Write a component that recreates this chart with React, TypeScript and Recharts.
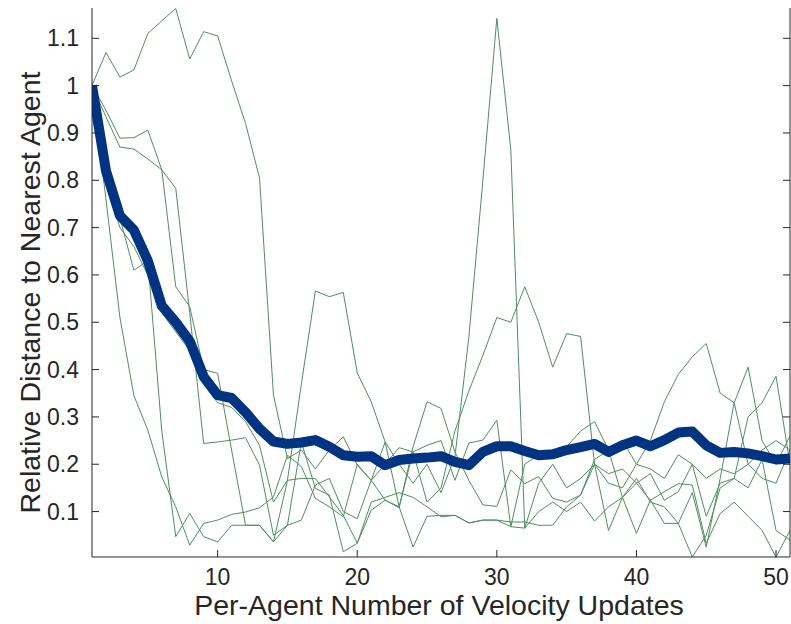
import React from 'react';
import { LineChart, Line, XAxis, YAxis } from 'recharts';

// Per-agent velocity update index
const steps = Array.from({ length: 51 }, (_, i) => i + 1);

// Mean relative distance to nearest agent (thick line)
const meanDistance = [
  1.0, 0.82, 0.725, 0.695, 0.63, 0.535, 0.5, 0.46, 0.385, 0.346,
  0.34, 0.31, 0.275, 0.248, 0.243, 0.246, 0.251, 0.237, 0.219, 0.216,
  0.217, 0.198, 0.209, 0.212, 0.214, 0.217, 0.205, 0.198, 0.226, 0.238,
  0.238, 0.228, 0.219, 0.221, 0.23, 0.236, 0.243, 0.226, 0.24, 0.25,
  0.238, 0.251, 0.267, 0.269, 0.24, 0.224, 0.226, 0.223, 0.217, 0.21, 0.212,
];

// Individual runs (thin lines)
const runA = [
  1.0, 1.07, 1.018, 1.033, 1.11, 1.137, 1.163, 1.056, 1.114, 1.105,
  1.01, 0.92, 0.805, 0.346, 0.212, 0.23, 0.19, 0.23, 0.258, 0.198,
  0.166, 0.124, 0.108, 0.237, 0.332, 0.318, 0.226, 0.166, 0.114, 0.111,
  0.188, 0.159, 0.174, 0.128, 0.12, 0.135, 0.21, 0.23, 0.13, 0.16,
  0.124, 0.142, 0.159, 0.156, 0.033, 0.096, 0.12, 0.09, 0.06, 0.004, 0.06,
];
const runB = [
  1.0, 0.948, 0.889, 0.89, 0.906, 0.822, 0.575, 0.533, 0.4, 0.392,
  0.23, 0.071, 0.071, 0.036, 0.166, 0.17, 0.17, 0.131, 0.092, 0.033,
  0.103, 0.124, 0.11, 0.025, 0.09, 0.092, 0.092, 0.076, 0.082, 0.082,
  0.078, 0.078, 0.071, 0.071, 0.11, 0.135, 0.2, 0.06, 0.13, 0.054,
  0.124, 0.075, 0.075, 0.004, 0.05, 0.15, 0.17, 0.3, 0.33, 0.386, 0.2,
];
const runC = [
  1.0, 0.934, 0.87, 0.866, 0.845, 0.822, 0.783, 0.52, 0.244, 0.247,
  0.251, 0.256, 0.198, 0.05, 0.071, 0.082, 0.156, 0.17, 0.1, 0.085,
  0.166, 0.2, 0.235, 0.226, 0.24, 0.25, 0.166, 0.245, 0.251, 0.293,
  0.068, 0.2, 0.22, 0.223, 0.237, 0.27, 0.29, 0.23, 0.25, 0.2,
  0.25, 0.332, 0.39, 0.427, 0.455, 0.35, 0.33, 0.2, 0.23, 0.25, 0.23,
];
const runD = [
  1.0, 0.76, 0.51, 0.345, 0.272, 0.173, 0.11, 0.029, 0.075, 0.082,
  0.094, 0.099, 0.108, 0.131, 0.219, 0.195, 0.128, 0.11, 0.089, 0.2,
  0.166, 0.247, 0.11, 0.226, 0.12, 0.15, 0.27, 0.355, 0.43, 0.51,
  0.5, 0.575, 0.5, 0.405, 0.476, 0.47, 0.2, 0.18, 0.19, 0.16,
  0.18, 0.124, 0.142, 0.2, 0.09, 0.16, 0.17, 0.15, 0.21, 0.06, 0.04,
];
const runE = [
  1.0, 0.83, 0.72, 0.61, 0.63, 0.27, 0.047, 0.096, 0.047, 0.036,
  0.071, 0.071, 0.071, 0.036, 0.071, 0.247, 0.149, 0.135, 0.015, 0.033,
  0.12, 0.13, 0.14, 0.13, 0.11, 0.089, 0.092, 0.076, 0.082, 0.082,
  0.068, 0.065, 0.1, 0.12, 0.1, 0.12, 0.08, 0.11, 0.13, 0.17,
  0.12, 0.11, 0.075, 0.14, 0.025, 0.17, 0.33, 0.405, 0.25, 0.2, 0.26,
];
const runF = [
  1.0, 0.8, 0.7, 0.66, 0.6, 0.52, 0.48, 0.44, 0.37, 0.33,
  0.32, 0.29, 0.24, 0.12, 0.166, 0.37, 0.566, 0.554, 0.563, 0.393,
  0.332, 0.247, 0.2, 0.16, 0.2, 0.14, 0.216, 0.47, 0.8, 1.142,
  0.865, 0.065, 0.16, 0.2, 0.15, 0.17, 0.2, 0.16, 0.15, 0.2,
  0.19, 0.17, 0.22, 0.2, 0.17, 0.19, 0.18, 0.2, 0.17, 0.16, 0.23,
];

const runs = [runA, runB, runC, runD, runE, runF];
const runKeys = ['runA', 'runB', 'runC', 'runD', 'runE', 'runF'];

const xTicks = [10, 20, 30, 40, 50];
const yTicks = [0.1, 0.2, 0.3, 0.4, 0.5, 0.6, 0.7, 0.8, 0.9, 1, 1.1];

const xLabel = 'Per-Agent Number of Velocity Updates';
const yLabel = 'Relative Distance to Nearest Agent';

const rows = steps.map((step, i) => {
  const row: Record<string, number> = { step, mean: meanDistance[i] };
  runs.forEach((r, k) => {
    row[runKeys[k]] = r[i];
  });
  return row;
});

const WIDTH = 791;
const HEIGHT = 624;
const PLOT = { left: 92, top: 8, right: 790, bottom: 557 };
const AXIS = '#262626';
const TEXT = '#262626';
const FONT = '"Liberation Sans", Arial, Helvetica, sans-serif';
const TICK_LEN = 7;
const TICK_FONT = 23;
const TITLE_FONT = 28.5;

const fmtY = (v: number) => (v === 1 ? '1' : String(v));

function BottomTick(props: any) {
  const { x, payload } = props;
  return (
    <g>
      <line x1={x} x2={x} y1={PLOT.bottom} y2={PLOT.bottom - TICK_LEN} stroke={AXIS} strokeWidth={1} />
      <text x={x} y={PLOT.bottom + 28} textAnchor="middle" fontSize={TICK_FONT} fontFamily={FONT} fill={TEXT}>
        {payload.value}
      </text>
    </g>
  );
}

function TopTick(props: any) {
  const { x } = props;
  return <line x1={x} x2={x} y1={PLOT.top} y2={PLOT.top + TICK_LEN} stroke={AXIS} strokeWidth={1} />;
}

function LeftTick(props: any) {
  const { y, payload } = props;
  return (
    <g>
      <line x1={PLOT.left} x2={PLOT.left + TICK_LEN} y1={y} y2={y} stroke={AXIS} strokeWidth={1} />
      <text x={PLOT.left - 13} y={y + 8} textAnchor="end" fontSize={TICK_FONT} fontFamily={FONT} fill={TEXT}>
        {fmtY(payload.value)}
      </text>
    </g>
  );
}

function RightTick(props: any) {
  const { y } = props;
  return <line x1={PLOT.right} x2={PLOT.right - TICK_LEN} y1={y} y2={y} stroke={AXIS} strokeWidth={1} />;
}

const XTitle = () => (
  <text x={(PLOT.left + PLOT.right) / 2 - 2} y={615} textAnchor="middle" fontSize={TITLE_FONT} fontFamily={FONT} fill={TEXT}>
    {xLabel}
  </text>
);

const YTitle = () => (
  <text
    x={0}
    y={0}
    transform={`translate(40, ${(PLOT.top + PLOT.bottom) / 2 + 10}) rotate(-90)`}
    textAnchor="middle"
    fontSize={TITLE_FONT}
    fontFamily={FONT}
    fill={TEXT}
  >
    {yLabel}
  </text>
);

export default function App() {
  return (
    <div style={{ position: 'absolute', left: 0, top: 0, width: WIDTH, height: HEIGHT, background: '#fff' }}>
      <LineChart
        width={WIDTH}
        height={HEIGHT}
        data={rows}
        margin={{ top: PLOT.top, right: 0, bottom: 0, left: 0 }}
      >
        <XAxis
          dataKey="step"
          type="number"
          domain={[1, 51]}
          ticks={xTicks}
          allowDataOverflow
          height={HEIGHT - PLOT.bottom}
          axisLine={{ stroke: AXIS, strokeWidth: 1 }}
          tickLine={false}
          tick={BottomTick}
          interval={0}
          label={XTitle}
        />
        <XAxis
          xAxisId="top"
          orientation="top"
          dataKey="step"
          type="number"
          domain={[1, 51]}
          ticks={xTicks}
          allowDataOverflow
          height={0}
          axisLine={{ stroke: AXIS, strokeWidth: 1 }}
          tickLine={false}
          tick={TopTick}
          interval={0}
        />
        <YAxis
          type="number"
          domain={[0.004, 1.164]}
          ticks={yTicks}
          allowDataOverflow
          width={PLOT.left}
          axisLine={{ stroke: AXIS, strokeWidth: 1 }}
          tickLine={false}
          tick={LeftTick}
          interval={0}
          label={YTitle}
        />
        <YAxis
          yAxisId="right"
          orientation="right"
          type="number"
          domain={[0.004, 1.164]}
          ticks={yTicks}
          allowDataOverflow
          width={WIDTH - PLOT.right}
          axisLine={{ stroke: AXIS, strokeWidth: 1 }}
          tickLine={false}
          tick={RightTick}
          interval={0}
        />
        {runKeys.map((k) => (
          <Line
            key={k}
            dataKey={k}
            type="linear"
            stroke="#4f8e5e"
            strokeWidth={1}
            dot={false}
            activeDot={false}
            isAnimationActive={false}
          />
        ))}
        <Line
          dataKey="mean"
          type="linear"
          stroke="#003482"
          strokeWidth={10}
          strokeLinejoin="round"
          dot={false}
          activeDot={false}
          isAnimationActive={false}
        />
      </LineChart>
    </div>
  );
}
